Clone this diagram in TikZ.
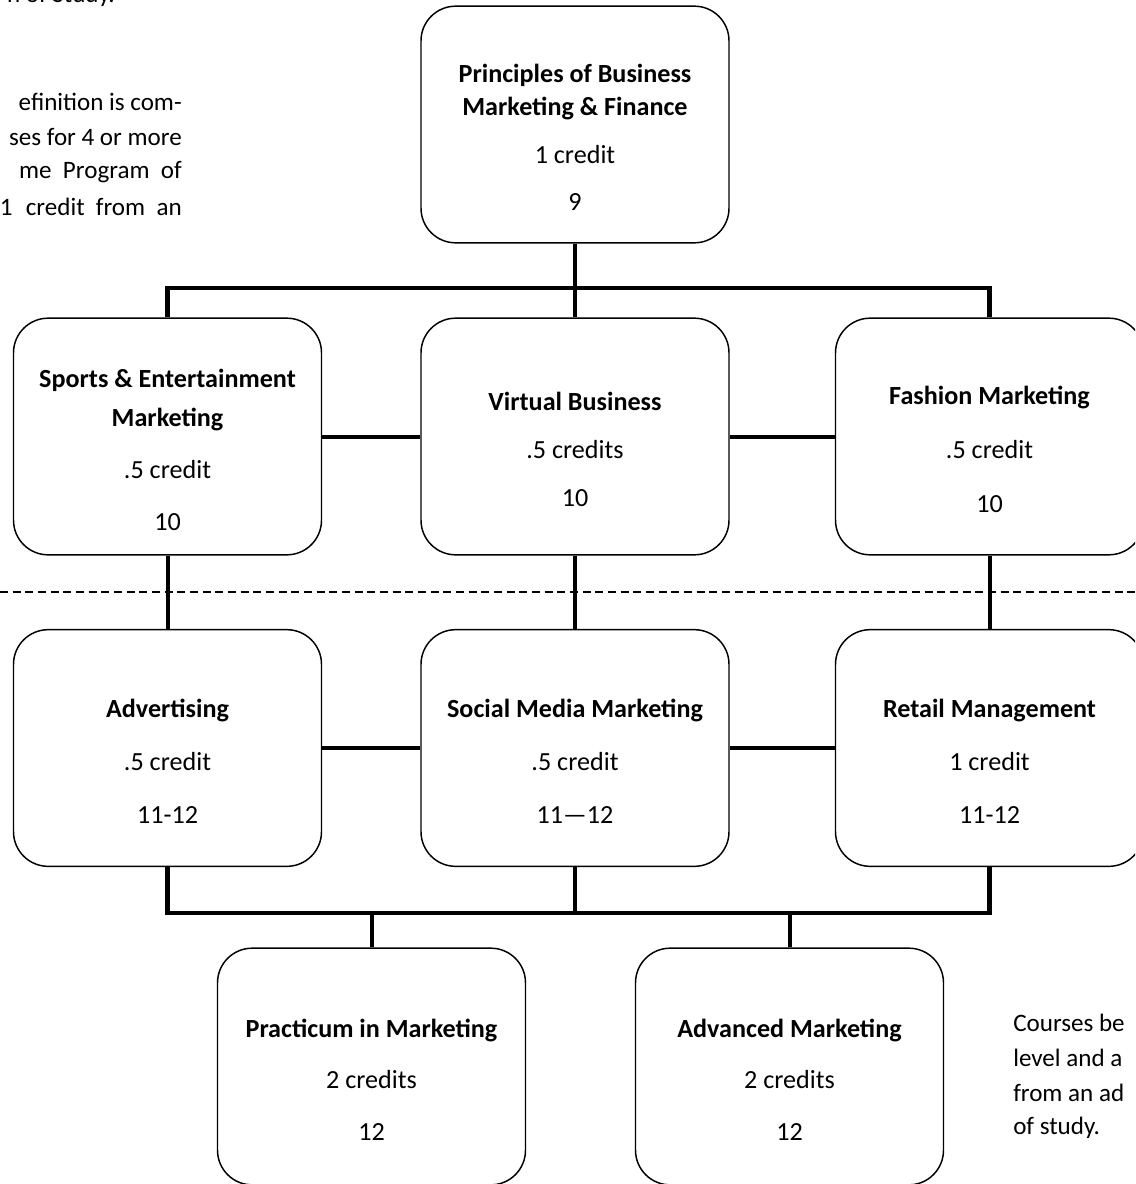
\documentclass[tikz,border=0pt]{standalone}
\usepackage{fontspec}
\setmainfont{Carlito}
\definecolor{ink}{HTML}{000000}
\newcommand{\boxfont}{\fontsize{19.6}{24.75}\selectfont}
\newcommand{\notefont}{\fontsize{18.8}{26}\selectfont}
% name, x, y, gap, title lines, credit, grade
\newcommand{\course}[7]{%
  \node[coursebox] (#1) at (#2,#3) {};
  \node[coursetext] (#1-txt) at (#2,#3+13) {#5\\[#4]#6\\[#4]#7};
}

\begin{document}
\begin{tikzpicture}[x=0.75pt,y=-0.75pt,
  coursebox/.style={draw=ink, line width=1.1pt, rounded corners=26pt,
    minimum width=231pt, minimum height=177.5pt, inner sep=0pt},
  coursetext/.style={text=ink, font=\boxfont, align=center, inner sep=0pt},
  link/.style={draw=ink, line width=3pt},
  bar/.style={draw=ink, line width=3.6pt},
  note/.style={text=ink, font=\notefont, inner sep=0pt}]
  \useasboundingbox (0,0) rectangle (1135,1184);
  \clip (0,0) rectangle (1135,1184);
  \fill[white] (0,0) rectangle (1135,1184);

  % Side notes, cut by the page edge as in the source.
  \node[note, anchor=base east] (n0) at (115,3) {n of Study.};
  \node[note, anchor=east] (n1) at (182,102) {efinition is com-};
  \node[note, anchor=east] (n2) at (182,137) {ses for 4 or more};
  \node[note, anchor=east] (n3) at (182,172) {me\ \ Program\ \ of};
  \node[note, anchor=east] (n4) at (182,207) {1\hspace{10pt}credit\ \ from\ \ an};
  \node[note, anchor=west] (m1) at (1013,1023) {Courses be};
  \node[note, anchor=west] (m2) at (1013,1058) {level and a};
  \node[note, anchor=west] (m3) at (1013,1093) {from an ad};
  \node[note, anchor=west] (m4) at (1013,1128) {of study.};

  % Course boxes.
  \course{prin}{575}{124.5}{11pt}{\textbf{Principles of Business}\\\textbf{Marketing \& Finance}}{1 credit}{9}
  \course{sports}{167.5}{436.5}{14pt}{\textbf{Sports \& Entertainment}\\[5pt]\textbf{Marketing}}{.5 credit}{10}
  \course{virt}{575}{436.5}{11pt}{\textbf{Virtual Business}}{.5 credits}{10}
  \course{fashion}{989.5}{436.5}{16pt}{\textbf{Fashion Marketing}}{.5 credit}{10}
  \course{adv}{167.5}{748}{15pt}{\textbf{Advertising}}{.5 credit}{11-12}
  \course{social}{575}{748}{15pt}{\textbf{Social Media Marketing}}{.5 credit}{11---12}
  \course{retail}{989.5}{748}{15pt}{\textbf{Retail Management}}{1 credit}{11-12}
  \course{pract}{371.5}{1066.5}{14pt}{\textbf{Practicum in Marketing}}{2 credits}{12}
  \course{advm}{789.5}{1066.5}{14pt}{\textbf{Advanced Marketing}}{2 credits}{12}

  % Top bracket.
  \coordinate (bar1) at (0,288);
  \draw[link] (prin.south) -- (virt.north);
  \draw[bar] (sports.north) -- (sports.north |- bar1) -- (fashion.north |- bar1) -- (fashion.north);

  % Side links and verticals.
  \draw[link] (sports) -- (virt);
  \draw[link] (virt) -- (fashion);
  \draw[link] (sports) -- (adv);
  \draw[link] (virt) -- (social);
  \draw[link] (fashion) -- (retail);
  \draw[link] (adv) -- (social);
  \draw[link] (social) -- (retail);

  % Grade divider.
  \coordinate (dl) at (0,592);
  \coordinate (dr) at (1135,592);
  \draw[ink, line width=2.2pt, dash pattern=on 6pt off 3.5pt] (dl) -- (dr);

  % Bottom bracket.
  \coordinate (bar2) at (0,913);
  \draw[bar] (adv.south) -- (adv.south |- bar2) -- (retail.south |- bar2) -- (retail.south);
  \draw[link] (social.south) -- (social.south |- bar2);
  \draw[link] (pract.north) -- (pract.north |- bar2);
  \draw[link] (advm.north) -- (advm.north |- bar2);
\end{tikzpicture}
\end{document}
